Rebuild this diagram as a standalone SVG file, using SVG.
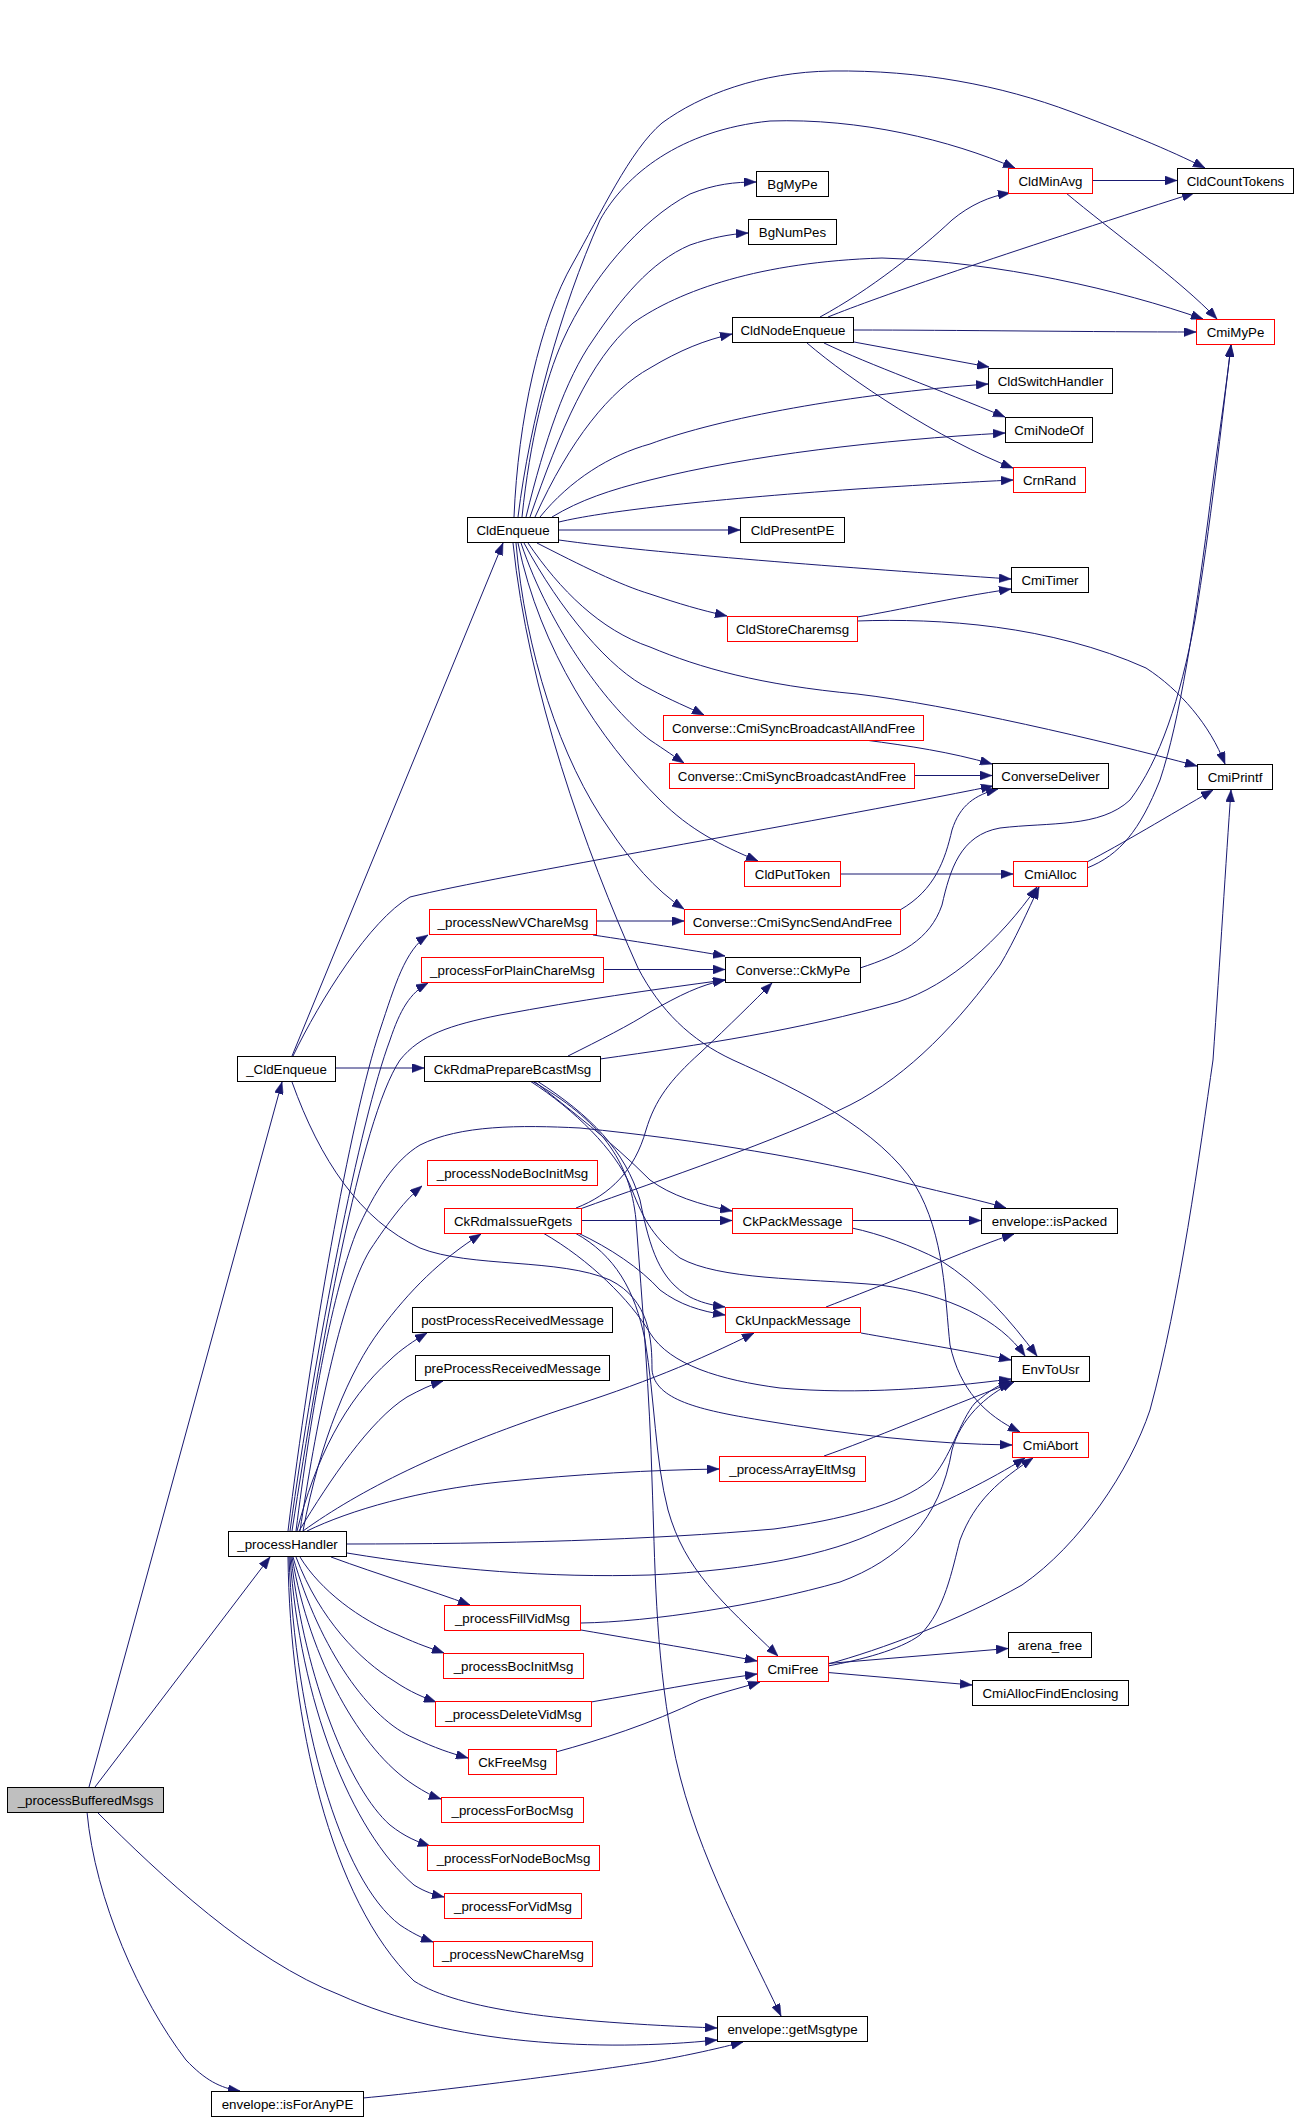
<svg xmlns="http://www.w3.org/2000/svg" width="1299" height="2120" viewBox="0 0 1299 2120">
<style>
.n rect{fill:#fff;stroke:#000;stroke-width:1}
.n.r rect{stroke:#f00}
.n.g rect{fill:#bfbfbf}
.n text{font-family:"Liberation Sans",Arial,sans-serif;font-size:13.3px;text-anchor:middle;fill:#000}
#edges path{fill:none;stroke:#191970;stroke-width:1;marker-end:url(#a)}
</style>
<defs>
<marker id="a" markerWidth="12" markerHeight="9" refX="12" refY="4.5" orient="auto" markerUnits="userSpaceOnUse"><path d="M0,0 L12,4.5 L0,9 z" fill="#191970" stroke="#191970" stroke-width="0.5"/></marker>
</defs>
<rect width="1299" height="2120" fill="#fff"/>
<g id="edges">
<path d="M89,1787 L282,1082"/>
<path d="M95,1787 L270,1557"/>
<path d="M97,1812 C160,1875 250,1960 340,1995 C450,2045 600,2052 717,2040"/>
<path d="M87,1812 C95,1900 140,2000 186,2060 C205,2080 220,2088 240,2091"/>
<path d="M292,1056 L503,543"/>
<path d="M336,1068 L424,1068"/>
<path d="M293,1056 C320,1000 370,920 410,897 C500,875 800,825 993,786"/>
<path d="M292,1082 C320,1160 360,1220 420,1248 C470,1268 560,1258 610,1280 C650,1300 652,1340 652,1370 C655,1400 700,1410 760,1420 C850,1435 930,1444 1012,1445"/>
<path d="M514,517 C518,420 540,320 573,263 C600,215 630,150 662,123 C700,95 760,72 832,71 C920,70 1000,85 1072,112 C1120,130 1170,150 1205,168"/>
<path d="M518,517 C530,420 560,310 600,220 C625,175 680,130 770,121 C860,118 950,140 1015,168"/>
<path d="M522,517 C530,440 545,380 563,340 C590,280 640,220 690,194 C715,184 735,182 756,182"/>
<path d="M526,517 C545,440 565,380 593,340 C620,300 650,262 690,245 C710,238 730,234 748,233"/>
<path d="M530,517 C560,430 590,360 633,323 C680,290 760,262 882,258 C1000,262 1120,290 1203,319"/>
<path d="M535,517 C570,440 610,390 650,368 C680,350 705,340 732,334"/>
<path d="M540,517 C570,480 610,455 650,444 C720,418 850,394 988,384"/>
<path d="M552,517 C580,500 610,490 650,480 C750,455 880,440 1005,433"/>
<path d="M559,522 C600,512 700,500 857,489 C920,485 970,482 1013,480"/>
<path d="M559,530 L740,530"/>
<path d="M559,540 C650,553 850,568 1011,579"/>
<path d="M537,543 C580,565 620,585 650,594 C680,604 700,610 727,616"/>
<path d="M528,543 C560,590 600,630 650,647 C700,668 760,685 857,694 C950,705 1100,740 1197,766"/>
<path d="M524,543 C560,610 610,670 650,689 C670,700 690,708 704,715"/>
<path d="M521,543 C550,630 610,710 650,740 C665,750 675,757 684,763"/>
<path d="M518,543 C540,650 600,740 660,800 C690,830 720,845 758,861"/>
<path d="M516,543 C525,650 560,760 610,830 C630,860 655,890 684,909"/>
<path d="M513,543 C528,690 585,850 638,968 C660,1010 690,1040 733,1060 C800,1090 880,1130 915,1185 C945,1235 945,1300 950,1345 C960,1390 985,1415 1020,1432"/>
<path d="M820,317 C870,290 920,250 952,220 C970,205 990,196 1010,193"/>
<path d="M828,317 C880,296 1000,255 1194,193"/>
<path d="M854,330 C950,330 1100,332 1196,332"/>
<path d="M854,342 L989,367"/>
<path d="M824,343 C870,365 940,390 1005,417"/>
<path d="M807,343 C850,380 940,440 1013,468"/>
<path d="M1093,180.5 L1177,180.5"/>
<path d="M1066,193 C1110,230 1180,280 1217,319"/>
<path d="M857,617 C900,610 950,598 1011,589"/>
<path d="M857,621 C940,618 1050,625 1146,668 C1180,690 1210,725 1225,764"/>
<path d="M865,740 C910,746 950,752 992,764"/>
<path d="M915,775.5 L992,775.5"/>
<path d="M840,874 L1013,874"/>
<path d="M900,910 C935,890 945,860 952,830 C960,805 975,795 998,789"/>
<path d="M860,968 C900,955 930,940 942,905 C950,870 960,835 1000,828 C1050,822 1100,828 1130,800 C1160,760 1180,700 1195,620 C1210,530 1222,420 1231,345"/>
<path d="M1087,868 C1120,855 1140,830 1160,780 C1180,720 1195,620 1208,520 C1218,440 1226,390 1231,345"/>
<path d="M1087,862 C1120,845 1170,815 1213,790"/>
<path d="M596,921 L684,921"/>
<path d="M593,935 C640,942 690,950 725,956"/>
<path d="M603,969.5 L725,969.5"/>
<path d="M568,1056 C600,1040 630,1025 650,1012 C680,995 700,985 725,980"/>
<path d="M600,1059 C700,1045 800,1030 898,1002 C950,985 1000,940 1037,887"/>
<path d="M534,1081 C570,1110 610,1140 650,1180 C670,1195 700,1205 732,1211"/>
<path d="M537,1081 C590,1115 625,1150 640,1200 C650,1250 660,1280 690,1297 C700,1302 710,1305 725,1307"/>
<path d="M530,1081 C575,1110 615,1150 630,1185 C642,1215 650,1235 680,1258 C720,1280 800,1278 880,1285 C950,1295 1000,1320 1025,1356"/>
<path d="M532,1081 C600,1120 630,1160 636,1220 C642,1300 650,1400 652,1480 C655,1560 655,1650 672,1740 C690,1840 740,1930 781,2016"/>
<path d="M576,1208 C610,1195 635,1170 646,1130 C655,1100 670,1080 700,1053 C730,1025 755,1000 772,983"/>
<path d="M580,1209 C660,1180 780,1140 850,1105 C910,1075 960,1020 1000,965 C1015,940 1028,910 1039,887"/>
<path d="M581,1220.5 L732,1220.5"/>
<path d="M578,1233 C610,1248 640,1268 660,1290 C680,1305 700,1311 725,1315"/>
<path d="M543,1233 C590,1260 630,1300 650,1333 C670,1365 720,1380 780,1388 C860,1395 940,1388 1011,1379"/>
<path d="M575,1233 C615,1255 635,1290 645,1340 C655,1400 655,1460 668,1510 C685,1570 720,1600 778,1656"/>
<path d="M288,1531 C310,1350 350,1120 380,1030 C395,985 405,950 428,935"/>
<path d="M290,1531 C315,1350 360,1120 390,1040 C400,1010 410,993 428,983"/>
<path d="M292,1531 C320,1350 360,1120 400,1060 C420,1035 450,1025 500,1015 C580,1000 650,990 725,980"/>
<path d="M296,1531 C310,1420 330,1300 356,1233 C375,1190 395,1160 420,1145 C460,1125 520,1125 580,1128 C700,1140 820,1160 898,1181 C940,1192 980,1200 1006,1208"/>
<path d="M300,1531 C315,1430 340,1300 370,1250 C390,1220 405,1200 422,1186"/>
<path d="M303,1531 C320,1440 350,1370 380,1330 C410,1290 440,1260 481,1234"/>
<path d="M297,1531 C315,1460 345,1400 390,1360 C400,1350 415,1340 427,1333"/>
<path d="M299,1531 C330,1480 370,1420 407,1397 C420,1390 430,1385 443,1381"/>
<path d="M303,1531 C360,1490 440,1450 560,1410 C640,1385 700,1360 754,1333"/>
<path d="M307,1531 C350,1510 420,1490 500,1482 C580,1474 650,1470 719,1469"/>
<path d="M347,1544 C500,1544 650,1540 774,1529 C840,1520 900,1505 930,1480 C950,1460 960,1420 975,1403 C990,1390 1000,1384 1011,1381"/>
<path d="M347,1553 C450,1570 550,1578 650,1575 C750,1570 830,1555 880,1530 C950,1500 990,1480 1025,1458"/>
<path d="M331,1557 C380,1575 430,1590 470,1605"/>
<path d="M300,1557 C320,1590 360,1620 398,1635 C420,1645 430,1648 444,1653"/>
<path d="M296,1557 C320,1620 360,1660 394,1681 C410,1692 425,1698 436,1702"/>
<path d="M293,1557 C320,1650 370,1720 414,1738 C435,1748 450,1753 468,1758"/>
<path d="M292,1557 C310,1660 360,1750 414,1785 C425,1792 432,1796 441,1799"/>
<path d="M291,1557 C305,1680 350,1790 390,1825 C405,1837 418,1842 430,1846"/>
<path d="M290,1557 C300,1700 350,1830 414,1885 C425,1892 435,1895 444,1897"/>
<path d="M289,1557 C295,1720 340,1880 400,1925 C412,1933 422,1938 433,1942"/>
<path d="M288,1557 C290,1720 330,1900 414,1981 C460,2010 560,2022 717,2028"/>
<path d="M581,1630 C650,1642 700,1650 757,1661"/>
<path d="M581,1623 C650,1622 760,1605 840,1582 C900,1560 940,1520 952,1450 C960,1420 985,1395 1014,1382"/>
<path d="M591,1702 C650,1692 700,1682 757,1674"/>
<path d="M556,1752 C600,1740 650,1724 700,1700 C720,1693 740,1688 760,1682"/>
<path d="M828,1663.5 L1008,1648.5"/>
<path d="M828,1672.5 L972,1685"/>
<path d="M828,1666 C860,1660 900,1650 920,1635 C945,1610 952,1570 960,1540 C975,1500 1000,1480 1033,1458"/>
<path d="M828,1664 C880,1650 960,1620 1022,1585 C1080,1545 1130,1470 1150,1410 C1180,1300 1200,1150 1213,1060 C1220,960 1226,860 1231,790"/>
<path d="M852,1220.5 L981,1220.5"/>
<path d="M852,1228 C880,1234 910,1245 940,1260 C980,1285 1010,1320 1037,1356"/>
<path d="M826,1307 C870,1290 920,1270 940,1262 C970,1250 995,1240 1014,1234"/>
<path d="M861,1333 C900,1340 950,1348 1011,1360"/>
<path d="M824,1456 C870,1440 940,1410 1011,1383"/>
<path d="M363,2098 C450,2090 600,2070 650,2062 C690,2055 720,2048 743,2042"/>
</g>
<g id="n_processBufferedMsgs" class="n g"><rect x="7.5" y="1787.5" width="156" height="25"/><text x="85.5" y="1804.8">_processBufferedMsgs</text></g>
<g id="n_CldEnqueue_" class="n"><rect x="237.5" y="1056.5" width="98" height="25"/><text x="286.5" y="1073.8">_CldEnqueue</text></g>
<g id="n_processHandler" class="n"><rect x="228.5" y="1531.5" width="118" height="25"/><text x="287.5" y="1548.8">_processHandler</text></g>
<g id="n_getMsgtype" class="n"><rect x="717.5" y="2016.5" width="150" height="25"/><text x="792.5" y="2033.8">envelope::getMsgtype</text></g>
<g id="n_isForAnyPE" class="n"><rect x="211.5" y="2091.5" width="152" height="25"/><text x="287.5" y="2108.8">envelope::isForAnyPE</text></g>
<g id="n_CldEnqueue" class="n"><rect x="467.5" y="517.5" width="91" height="25"/><text x="513" y="534.8">CldEnqueue</text></g>
<g id="n_CkRdmaPrepareBcastMsg" class="n"><rect x="424.5" y="1056.5" width="176" height="25"/><text x="512.5" y="1073.8">CkRdmaPrepareBcastMsg</text></g>
<g id="n_ConverseDeliver" class="n"><rect x="992.5" y="763.5" width="116" height="25"/><text x="1050.5" y="780.8">ConverseDeliver</text></g>
<g id="n_CldCountTokens" class="n"><rect x="1177.5" y="168.5" width="116" height="25"/><text x="1235.5" y="185.8">CldCountTokens</text></g>
<g id="n_CldMinAvg" class="n r"><rect x="1008.5" y="168.5" width="84" height="25"/><text x="1050.5" y="185.8">CldMinAvg</text></g>
<g id="n_BgMyPe" class="n"><rect x="756.5" y="171.5" width="72" height="25"/><text x="792.5" y="188.8">BgMyPe</text></g>
<g id="n_BgNumPes" class="n"><rect x="748.5" y="219.5" width="88" height="25"/><text x="792.5" y="236.8">BgNumPes</text></g>
<g id="n_CmiMyPe" class="n r"><rect x="1196.5" y="319.5" width="78" height="25"/><text x="1235.5" y="336.8">CmiMyPe</text></g>
<g id="n_CldNodeEnqueue" class="n"><rect x="732.5" y="317.5" width="121" height="25"/><text x="793" y="334.8">CldNodeEnqueue</text></g>
<g id="n_CldSwitchHandler" class="n"><rect x="988.5" y="368.5" width="124" height="25"/><text x="1050.5" y="385.8">CldSwitchHandler</text></g>
<g id="n_CmiNodeOf" class="n"><rect x="1005.5" y="417.5" width="87" height="25"/><text x="1049" y="434.8">CmiNodeOf</text></g>
<g id="n_CrnRand" class="n r"><rect x="1013.5" y="467.5" width="72" height="25"/><text x="1049.5" y="484.8">CrnRand</text></g>
<g id="n_CldPresentPE" class="n"><rect x="740.5" y="517.5" width="104" height="25"/><text x="792.5" y="534.8">CldPresentPE</text></g>
<g id="n_CmiTimer" class="n"><rect x="1011.5" y="567.5" width="77" height="25"/><text x="1050" y="584.8">CmiTimer</text></g>
<g id="n_CldStoreCharemsg" class="n r"><rect x="727.5" y="616.5" width="130" height="25"/><text x="792.5" y="633.8">CldStoreCharemsg</text></g>
<g id="n_CmiSyncBroadcastAllAndFree" class="n r"><rect x="663.5" y="715.5" width="260" height="25"/><text x="793.5" y="732.8">Converse::CmiSyncBroadcastAllAndFree</text></g>
<g id="n_CmiSyncBroadcastAndFree" class="n r"><rect x="669.5" y="763.5" width="245" height="25"/><text x="792" y="780.8">Converse::CmiSyncBroadcastAndFree</text></g>
<g id="n_CmiPrintf" class="n"><rect x="1197.5" y="764.5" width="75" height="25"/><text x="1235" y="781.8">CmiPrintf</text></g>
<g id="n_CldPutToken" class="n r"><rect x="744.5" y="861.5" width="96" height="25"/><text x="792.5" y="878.8">CldPutToken</text></g>
<g id="n_CmiAlloc" class="n r"><rect x="1013.5" y="861.5" width="74" height="25"/><text x="1050.5" y="878.8">CmiAlloc</text></g>
<g id="n_CmiSyncSendAndFree" class="n r"><rect x="684.5" y="909.5" width="216" height="25"/><text x="792.5" y="926.8">Converse::CmiSyncSendAndFree</text></g>
<g id="n_CkMyPe" class="n"><rect x="725.5" y="957.5" width="135" height="25"/><text x="793" y="974.8">Converse::CkMyPe</text></g>
<g id="n_processNewVChareMsg" class="n r"><rect x="429.5" y="909.5" width="167" height="25"/><text x="513" y="926.8">_processNewVChareMsg</text></g>
<g id="n_processForPlainChareMsg" class="n r"><rect x="421.5" y="957.5" width="182" height="25"/><text x="512.5" y="974.8">_processForPlainChareMsg</text></g>
<g id="n_processNodeBocInitMsg" class="n r"><rect x="427.5" y="1160.5" width="170" height="25"/><text x="512.5" y="1177.8">_processNodeBocInitMsg</text></g>
<g id="n_CkRdmaIssueRgets" class="n r"><rect x="444.5" y="1208.5" width="137" height="25"/><text x="513" y="1225.8">CkRdmaIssueRgets</text></g>
<g id="n_postProcessReceivedMessage" class="n"><rect x="412.5" y="1307.5" width="200" height="25"/><text x="512.5" y="1324.8">postProcessReceivedMessage</text></g>
<g id="n_preProcessReceivedMessage" class="n"><rect x="415.5" y="1355.5" width="194" height="25"/><text x="512.5" y="1372.8">preProcessReceivedMessage</text></g>
<g id="n_CkPackMessage" class="n r"><rect x="732.5" y="1208.5" width="120" height="25"/><text x="792.5" y="1225.8">CkPackMessage</text></g>
<g id="n_isPacked" class="n"><rect x="981.5" y="1208.5" width="136" height="25"/><text x="1049.5" y="1225.8">envelope::isPacked</text></g>
<g id="n_CkUnpackMessage" class="n r"><rect x="725.5" y="1307.5" width="135" height="25"/><text x="793" y="1324.8">CkUnpackMessage</text></g>
<g id="n_EnvToUsr" class="n"><rect x="1011.5" y="1356.5" width="78" height="25"/><text x="1050.5" y="1373.8">EnvToUsr</text></g>
<g id="n_CmiAbort" class="n r"><rect x="1012.5" y="1432.5" width="76" height="25"/><text x="1050.5" y="1449.8">CmiAbort</text></g>
<g id="n_processArrayEltMsg" class="n r"><rect x="719.5" y="1456.5" width="146" height="25"/><text x="792.5" y="1473.8">_processArrayEltMsg</text></g>
<g id="n_processFillVidMsg" class="n r"><rect x="444.5" y="1605.5" width="136" height="25"/><text x="512.5" y="1622.8">_processFillVidMsg</text></g>
<g id="n_processBocInitMsg" class="n r"><rect x="443.5" y="1653.5" width="140" height="25"/><text x="513.5" y="1670.8">_processBocInitMsg</text></g>
<g id="n_processDeleteVidMsg" class="n r"><rect x="435.5" y="1701.5" width="156" height="25"/><text x="513.5" y="1718.8">_processDeleteVidMsg</text></g>
<g id="n_CkFreeMsg" class="n r"><rect x="468.5" y="1749.5" width="88" height="25"/><text x="512.5" y="1766.8">CkFreeMsg</text></g>
<g id="n_processForBocMsg" class="n r"><rect x="441.5" y="1797.5" width="142" height="25"/><text x="512.5" y="1814.8">_processForBocMsg</text></g>
<g id="n_processForNodeBocMsg" class="n r"><rect x="427.5" y="1845.5" width="172" height="25"/><text x="513.5" y="1862.8">_processForNodeBocMsg</text></g>
<g id="n_processForVidMsg" class="n r"><rect x="444.5" y="1893.5" width="137" height="25"/><text x="513" y="1910.8">_processForVidMsg</text></g>
<g id="n_processNewChareMsg" class="n r"><rect x="433.5" y="1941.5" width="159" height="25"/><text x="513" y="1958.8">_processNewChareMsg</text></g>
<g id="n_CmiFree" class="n r"><rect x="757.5" y="1656.5" width="71" height="25"/><text x="793" y="1673.8">CmiFree</text></g>
<g id="n_arena_free" class="n"><rect x="1008.5" y="1632.5" width="83" height="25"/><text x="1050" y="1649.8">arena_free</text></g>
<g id="n_CmiAllocFindEnclosing" class="n"><rect x="972.5" y="1680.5" width="156" height="25"/><text x="1050.5" y="1697.8">CmiAllocFindEnclosing</text></g>
</svg>
